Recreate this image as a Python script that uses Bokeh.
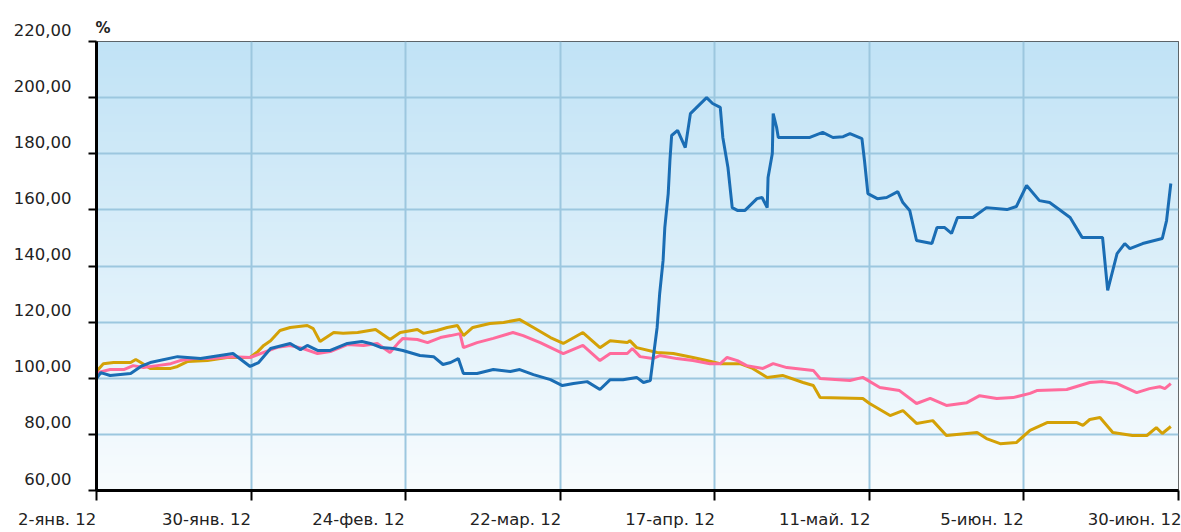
import numpy as np
from bokeh.plotting import figure
from bokeh.models import Range1d, FixedTicker, CustomJSTickFormatter
from bokeh.embed import file_html
from bokeh.resources import INLINE

# ---- data ----
tick_labels = ["2-янв. 12", "30-янв. 12", "24-фев. 12", "22-мар. 12",
               "17-апр. 12", "11-май. 12", "5-июн. 12", "30-июн. 12"]
y_ticks = [60, 80, 100, 120, 140, 160, 180, 200, 220]

blue_x = [0, 0.5, 1.6, 4.0, 5.2, 6.3, 9.5, 12.2, 16.0, 18.0, 19.0, 20.4, 22.7, 23.9, 24.7, 25.9,
          27.4, 29.4, 31.1, 32.1, 33.3, 34.8, 35.9, 37.9, 39.5, 40.6, 41.5, 42.4, 43.0, 44.6, 46.5,
          48.5, 49.6, 51.2, 53.2, 54.6, 55.9, 57.5, 59.0, 60.2, 61.7, 63.3, 64.1, 64.9, 65.2, 65.7,
          66.0, 66.4, 66.6, 67.0, 67.2, 67.4, 68.1, 69.0, 69.6, 71.5, 72.2, 73.1, 73.4, 74.0, 74.5,
          75.1, 76.0, 77.4, 78.0, 78.6, 78.7, 79.2, 79.3, 79.7, 79.9, 83.6, 85.1, 86.3, 87.5, 88.3,
          89.7, 90.0, 90.4, 91.5, 92.6, 93.9, 94.5, 95.3, 96.1, 97.9, 98.5, 99.4, 100.2, 100.9,
          102.7, 104.3, 106.7, 107.8, 109.0, 110.5, 111.7, 114.1, 115.5, 117.9, 118.5, 119.6,
          120.5, 121.1, 122.6, 124.9, 125.4, 125.9]
blue_y = [99.9, 102.0, 101.0, 101.7, 104.2, 105.6, 107.7, 107.0, 108.8, 104.2, 105.6, 110.6,
          112.4, 110.2, 111.7, 109.9, 109.9, 112.4, 113.1, 112.4, 111.0, 110.6, 109.9, 108.1,
          107.7, 104.9, 105.6, 107.0, 101.7, 101.7, 103.1, 102.4, 103.1, 101.3, 99.5, 97.4, 98.1,
          98.8, 96.0, 99.5, 99.5, 100.3, 98.5, 99.2, 106.3, 118.1, 130.2, 142.0, 153.7, 165.8,
          177.6, 186.5, 188.3, 182.2, 194.3, 200.0, 197.9, 196.5, 185.8, 175.1, 160.8, 159.8,
          159.8, 164.0, 164.4, 160.8, 171.5, 180.1, 194.3, 189.4, 185.8, 185.8, 187.6, 185.8,
          186.1, 187.2, 185.4, 177.6, 165.8, 164.0, 164.4, 166.5, 162.6, 159.8, 149.1, 148.0,
          153.7, 153.7, 151.6, 157.3, 157.3, 160.8, 160.1, 161.2, 168.7, 163.3, 162.6, 157.3,
          150.2, 150.2, 131.3, 144.4, 148.0, 146.2, 148.0, 149.8, 156.2, 169.4]

pink_x = [0, 0.1, 1.6, 3.2, 4.3, 5.5, 7.1, 8.7, 9.8, 11.4, 13.3, 16.0, 18.0, 19.6, 21.2, 22.7,
          24.2, 25.9, 27.4, 29.4, 31.3, 32.9, 34.4, 35.4, 35.9, 37.6, 38.8, 40.3, 41.5, 42.6,
          43.0, 44.6, 46.5, 48.8, 50.0, 52.0, 54.7, 57.0, 59.0, 60.2, 62.2, 62.8, 63.7, 65.2,
          66.0, 68.0, 69.9, 71.9, 73.1, 73.9, 75.1, 76.2, 78.1, 79.3, 80.9, 84.0, 84.8, 88.3,
          89.8, 91.8, 94.1, 96.1, 97.7, 99.6, 102.0, 103.5, 105.5, 107.4, 109.4, 110.2, 113.7,
          116.4, 117.9, 119.6, 121.9, 123.4, 124.6, 125.2, 125.9]
pink_y = [100.9, 102.0, 103.1, 103.1, 104.5, 103.8, 104.5, 105.2, 106.3, 107.0, 107.0, 107.7,
          107.4, 109.2, 111.0, 111.7, 110.6, 108.8, 109.5, 112.0, 111.7, 112.4, 109.2, 112.7,
          114.2, 113.8, 112.7, 114.5, 115.2, 115.9, 110.9, 112.7, 114.2, 116.3, 115.2, 112.7,
          108.8, 111.7, 106.3, 108.8, 108.8, 110.6, 107.7, 107.0, 108.1, 107.0, 106.3, 105.2,
          105.2, 107.4, 106.3, 104.5, 103.5, 105.2, 103.8, 102.8, 99.9, 99.2, 100.3, 96.7, 95.6,
          91.0, 92.8, 90.3, 91.3, 93.8, 92.8, 93.1, 94.6, 95.6, 96.0, 98.5, 98.8, 98.1, 94.9,
          96.3, 97.0, 96.3, 98.1]

gold_x = [0, 0.1, 0.8, 2.0, 4.0, 4.6, 5.2, 6.3, 8.7, 9.5, 10.7, 13.0, 15.3, 18.0, 18.9, 19.6,
          20.4, 21.5, 22.7, 24.7, 25.4, 26.2, 27.8, 28.9, 30.6, 32.7, 34.4, 35.6, 37.6, 38.3,
          39.9, 41.1, 42.3, 43.0, 44.1, 46.1, 47.7, 49.6, 51.2, 53.2, 54.7, 57.0, 59.0, 60.2,
          62.2, 62.5, 63.3, 65.7, 67.6, 69.9, 71.5, 73.1, 75.4, 76.9, 78.6, 80.4, 82.8, 84.0,
          84.8, 89.8, 90.6, 93.0, 94.5, 96.1, 98.0, 99.6, 103.2, 104.3, 105.9, 107.8, 109.4,
          111.4, 114.9, 115.6, 116.4, 117.6, 119.1, 121.4, 123.1, 124.2, 124.9, 125.9]
gold_y = [100.9, 102.8, 105.2, 105.6, 105.6, 106.7, 105.6, 103.5, 103.5, 104.2, 106.0, 106.3,
          107.4, 107.4, 109.5, 111.7, 113.4, 117.0, 118.1, 118.8, 117.7, 113.1, 116.3, 116.0,
          116.3, 117.4, 113.8, 116.3, 117.4, 116.0, 117.0, 118.1, 118.8, 115.2, 118.1, 119.5,
          119.9, 120.9, 118.1, 114.5, 112.4, 116.3, 110.9, 113.4, 112.7, 113.4, 110.9, 109.2,
          108.8, 107.4, 106.3, 105.2, 105.2, 103.5, 100.3, 101.0, 98.5, 97.4, 93.1, 92.8, 91.0,
          86.7, 88.5, 83.9, 84.9, 79.6, 80.7, 78.5, 76.7, 77.1, 81.4, 84.2, 84.2, 83.2, 85.3,
          86.0, 80.7, 79.6, 79.6, 82.4, 80.3, 82.8]

# ---- layout ----
W, H = 1181, 532
BL, BT, BB, BR = 96, 41, 42, 3
X_END = 126.8
Y0, Y1 = y_ticks[0], y_ticks[-1]
tick_pos = [round(i * X_END / (len(tick_labels) - 1), 2) for i in range(len(tick_labels))]

FONT = "DejaVu Sans"
FS = "16.5px"


def approx_width_em(s):
    w = 0.0
    for ch in s:
        if ch.isdigit():
            w += 0.636
        elif ch in ".,":
            w += 0.318
        elif ch == " ":
            w += 0.318
        elif ch == "-":
            w += 0.361
        elif ch in "фю":
            w += 0.86
        elif ch == "м":
            w += 0.75
        else:
            w += 0.63
    return w


# pad x labels with no-break spaces so the visible text ends at its tick (right-aligned look);
# the last one is pushed inside the canvas edge by Bokeh itself, so it needs no padding
x_label_text = []
for i, lab in enumerate(tick_labels):
    if i == len(tick_labels) - 1:
        x_label_text.append(lab)
    else:
        x_label_text.append(lab + "\u00a0" * int(round(approx_width_em(lab) / 0.318)))
# trailing empty line lifts the y label above its tick, as in the reference
y_label_text = [f"{v:.2f}".replace(".", ",") + "\n" for v in y_ticks]

p = figure(width=W, height=H, x_range=Range1d(0, X_END), y_range=Range1d(Y0, Y1),
           output_backend="svg", toolbar_location=None,
           min_border_left=BL, min_border_top=BT, min_border_bottom=BB, min_border_right=BR,
           title="%")
p.background_fill_color = "white"
p.border_fill_color = "white"
p.outline_line_color = "#3a3a3a"
p.outline_line_width = 1

p.title.align = "left"
p.title.text_font = FONT
p.title.text_font_size = "15px"
p.title.text_font_style = "bold"
p.title.text_color = "#222222"
p.title.standoff = 9
p.title.offset = -1

# gradient background
n = 200
top = np.array([193, 227, 246])
bot = np.array([248, 252, 254])
img = np.zeros((n, 1), dtype=np.uint32)
view = img.view(dtype=np.uint8).reshape((n, 1, 4))
for i in range(n):
    t = i / (n - 1)
    c = bot + (top - bot) * t
    view[i, 0, 0:3] = c.astype(np.uint8)
    view[i, 0, 3] = 255
p.image_rgba(image=[img], x=0, y=Y0, dw=X_END, dh=Y1 - Y0, level="image")

# grid
p.xgrid.ticker = FixedTicker(ticks=tick_pos)
p.ygrid.ticker = FixedTicker(ticks=y_ticks)
for g in (p.xgrid, p.ygrid):
    g.grid_line_color = "#9cc7df"
    g.grid_line_width = 2

# axes
p.xaxis.ticker = FixedTicker(ticks=tick_pos)
p.yaxis.ticker = FixedTicker(ticks=y_ticks)
p.xaxis.formatter = CustomJSTickFormatter(args=dict(labels=x_label_text), code="return labels[index]")
p.yaxis.formatter = CustomJSTickFormatter(args=dict(labels=y_label_text), code="return labels[index]")
for ax in (p.xaxis, p.yaxis):
    ax.axis_line_color = "black"
    ax.axis_line_width = 3
    ax.major_tick_line_color = "black"
    ax.major_tick_line_width = 2
    ax.major_tick_in = 0
    ax.minor_tick_line_color = None
    ax.major_label_text_font = FONT
    ax.major_label_text_font_size = FS
    ax.major_label_text_color = "#222222"
p.yaxis.major_tick_out = 8
p.yaxis.major_label_standoff = 17
p.xaxis.major_tick_out = 10
p.xaxis.major_label_standoff = 9

# lines
p.line(gold_x, gold_y, line_color="#d4a106", line_width=3)
p.line(pink_x, pink_y, line_color="#ff6b9c", line_width=3)
p.line(blue_x, blue_y, line_color="#1a6db4", line_width=3)

open("out.html", "w").write(file_html(p, INLINE))
